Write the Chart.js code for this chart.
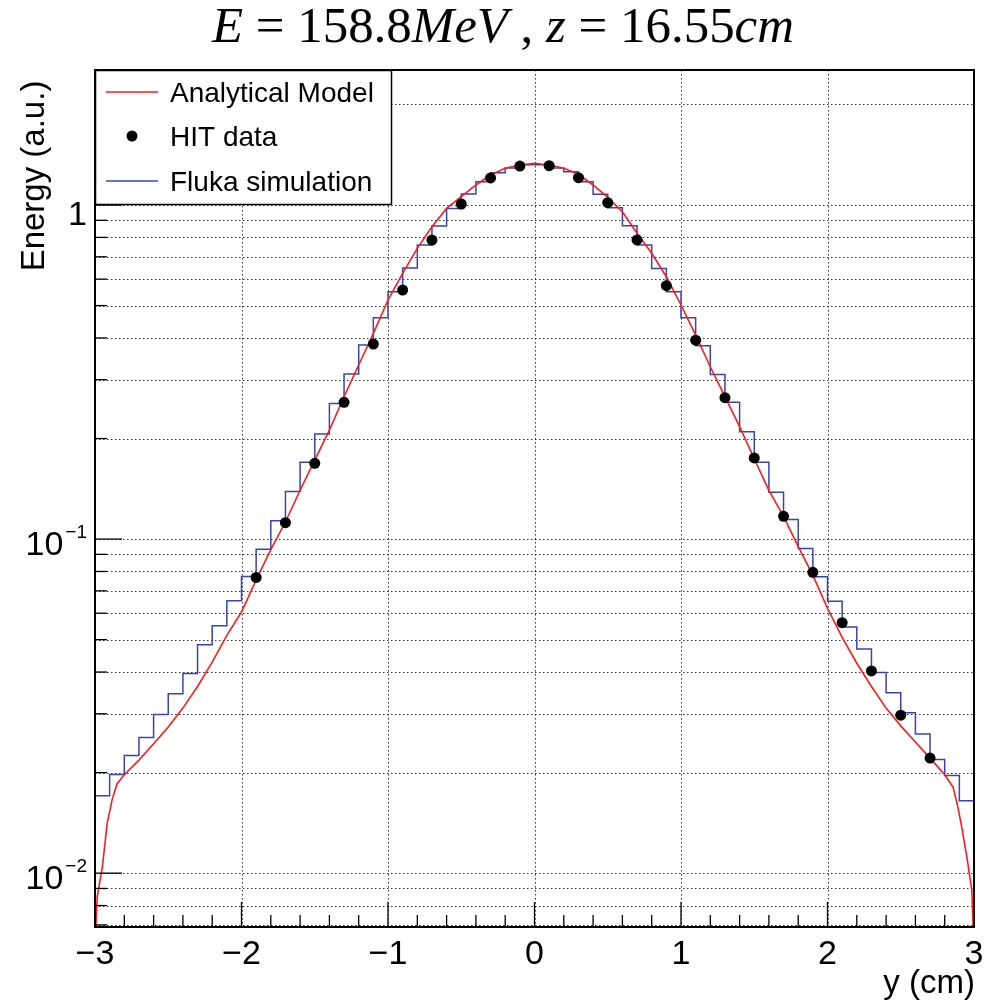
<!DOCTYPE html>
<html>
<head>
<meta charset="utf-8">
<script src="https://cdn.jsdelivr.net/npm/chart.js@4.4.0/dist/chart.umd.min.js"></script>
<style>
  html, body { margin: 0; padding: 0; background: #fff; }
</style>
</head>
<body>
<canvas id="chart" width="984" height="1006"></canvas>
<script>
// --- DATA ---

// HIT measurements (black dots)
const hitX = [-1.9, -1.7, -1.5, -1.3, -1.1, -0.9, -0.7, -0.5, -0.3, -0.1,
              0.1, 0.3, 0.5, 0.7, 0.9, 1.1, 1.3, 1.5, 1.7, 1.9, 2.1, 2.3, 2.5, 2.7];
const hitY = [0.0768, 0.112, 0.1686, 0.2566, 0.3836, 0.5566, 0.7856, 1.007, 1.205, 1.308,
              1.311, 1.207, 1.016, 0.786, 0.5734, 0.394, 0.265, 0.175, 0.117, 0.0795,
              0.0562, 0.0403, 0.0297, 0.0221];

// Fluka histogram: 60 bins of 0.1 cm from -3 to 3
const flukaStart = -3;
const flukaBin = 0.1;
const flukaY = [0.01704, 0.01974, 0.0225, 0.02548, 0.02986, 0.03442, 0.03961, 0.04826, 0.055, 0.06535,
                0.0773, 0.0933, 0.1134, 0.1389, 0.1697, 0.2062, 0.2548, 0.3119, 0.3808, 0.4599,
                0.5501, 0.6476, 0.759, 0.8652, 0.977, 1.079, 1.174, 1.25, 1.29, 1.32,
                1.32, 1.29, 1.258, 1.174, 1.077, 0.982, 0.867, 0.759, 0.646, 0.55,
                0.46, 0.379, 0.311, 0.2566, 0.2096, 0.1697, 0.138, 0.1145, 0.0938, 0.0771,
                0.0652, 0.0546, 0.0469, 0.0399, 0.0347, 0.0302, 0.0261, 0.0219, 0.0196, 0.01646];

// Analytical model (red curve)
const modelX = [-3.0, -2.985, -2.95, -2.917, -2.883, -2.85, -2.8, -2.7, -2.6, -2.5, -2.4, -2.3, -2.2, -2.1,
                -2.0, -1.9, -1.8, -1.7, -1.6, -1.5, -1.4, -1.3, -1.2, -1.1, -1.0, -0.9, -0.8, -0.7,
                -0.6, -0.5, -0.4, -0.3, -0.2, -0.1, 0.0, 0.1, 0.2, 0.3, 0.4, 0.5, 0.6, 0.7, 0.8,
                0.9, 1.0, 1.1, 1.2, 1.3, 1.4, 1.5, 1.6, 1.7, 1.8, 1.9, 2.0, 2.1, 2.2, 2.3, 2.4,
                2.5, 2.6, 2.7, 2.8, 2.857, 2.89, 2.92, 2.955, 2.985, 3.0];
const modelY = [0.006, 0.0085, 0.0104, 0.0141, 0.0166, 0.0185, 0.0197, 0.0218, 0.0244, 0.0274, 0.0312, 0.0362, 0.0428, 0.0515,
                0.0605, 0.0755, 0.093, 0.1125, 0.14, 0.1724, 0.212, 0.2667, 0.332, 0.413, 0.519, 0.624, 0.742, 0.861,
                0.977, 1.059, 1.148, 1.23, 1.288, 1.318, 1.333, 1.318, 1.288, 1.236, 1.148, 1.054, 0.955, 0.823, 0.717,
                0.61, 0.502, 0.408, 0.328, 0.267, 0.217, 0.174, 0.14, 0.117, 0.095, 0.078, 0.062, 0.0508, 0.0425, 0.0362, 0.0312,
                0.0276, 0.0247, 0.0221, 0.0197, 0.0181, 0.0158, 0.01345, 0.0109, 0.0089, 0.006];

// axes
const xMin = -3, xMax = 3;
const yMin = 0.0069, yMax = 2.536;
const xTickLabels = ['\u22123', '\u22122', '\u22121', '0', '1', '2', '3'];

const titleParts = [
    ['E', true], [' = 158.8', false], ['MeV', true], [' , ', false],
    ['z', true], [' = 16.55', false], ['cm', true]
];

// --- build series ---
const modelPts = modelX.map((x, i) => ({ x: x, y: modelY[i] }));
const hitPts = hitX.map((x, i) => ({ x: x, y: hitY[i] }));

const flukaPts = [{ x: flukaStart, y: 1e-4 }];
flukaY.forEach((v, i) => flukaPts.push({ x: +(flukaStart + i * flukaBin).toFixed(2), y: v }));
flukaPts.push({ x: xMax, y: flukaY[flukaY.length - 1] });
flukaPts.push({ x: xMax, y: 1e-4 });

// tick positions
const xMajor = [];
for (let v = xMin; v <= xMax; v++) xMajor.push(v);
const xMinor = [];
for (let k = -15; k <= 15; k++) xMinor.push(k * 0.2);
const yGrid = [];
for (let d = -3; d <= 0; d++) {
    for (let m = 1; m <= 9; m++) {
        const v = m * Math.pow(10, d);
        if (v >= yMin && v <= yMax) yGrid.push({ v: v, major: m === 1 });
    }
}

const SANS = '"Liberation Sans", Arial, Helvetica, sans-serif';
const SERIF = '"Liberation Serif", "Times New Roman", serif';

function line(ctx, x1, y1, x2, y2) {
    ctx.beginPath();
    ctx.moveTo(x1, y1);
    ctx.lineTo(x2, y2);
    ctx.stroke();
}

// ROOT-like frame, grid, ticks, labels and legend
const rootStyle = {
    id: 'rootStyle',
    beforeDraw(chart) {
        const ctx = chart.ctx;
        ctx.save();
        ctx.fillStyle = '#fff';
        ctx.fillRect(0, 0, chart.width, chart.height);
        ctx.restore();
    },
    beforeDatasetsDraw(chart) {
        const { ctx, chartArea: a, scales: { x, y } } = chart;
        ctx.save();
        ctx.strokeStyle = 'rgba(0,0,0,0.8)';
        ctx.lineWidth = 1;
        ctx.setLineDash([1.5, 2.5]);
        xMajor.forEach(v => {
            const px = Math.round(x.getPixelForValue(v)) + 0.5;
            line(ctx, px, a.top, px, a.bottom);
        });
        yGrid.forEach(t => {
            const py = Math.round(y.getPixelForValue(t.v)) + 0.5;
            line(ctx, a.left, py, a.right, py);
        });
        ctx.restore();
    },
    afterDatasetsDraw(chart) {
        const { ctx, chartArea: a, scales: { x, y } } = chart;
        ctx.save();

        // ticks pointing inside
        ctx.strokeStyle = '#000';
        ctx.lineWidth = 1.3;
        xMinor.forEach(v => {
            const px = x.getPixelForValue(v);
            const major = Math.abs(v - Math.round(v)) < 1e-6;
            line(ctx, px, a.bottom, px, a.bottom - (major ? 25 : 12));
        });
        yGrid.forEach(t => {
            const py = y.getPixelForValue(t.v);
            line(ctx, a.left, py, a.left + (t.major ? 27 : 12), py);
        });

        // frame
        ctx.lineWidth = 2;
        ctx.strokeRect(a.left, a.top, a.right - a.left, a.bottom - a.top);

        // x tick labels
        ctx.fillStyle = '#000';
        ctx.font = '34px ' + SANS;
        ctx.textAlign = 'center';
        ctx.textBaseline = 'alphabetic';
        xMajor.forEach((v, i) => {
            ctx.fillText(xTickLabels[i], x.getPixelForValue(v), 964);
        });

        // y tick labels (powers of ten)
        ctx.textAlign = 'right';
        [-2, -1, 0].forEach(d => {
            const py = y.getPixelForValue(Math.pow(10, d));
            const right = a.left - 8;
            if (d === 0) {
                ctx.font = '34px ' + SANS;
                ctx.fillText('1', right, py + 20);
            } else {
                const sup = '\u2212' + Math.abs(d);
                ctx.font = '19px ' + SANS;
                ctx.fillText(sup, right, py - 1);
                const w = ctx.measureText(sup).width;
                ctx.font = '34px ' + SANS;
                ctx.fillText('10', right - w - 2, py + 16);
            }
        });

        // axis titles
        ctx.font = '33px ' + SANS;
        ctx.textAlign = 'right';
        ctx.fillText('y (cm)', a.right + 1, 993);
        ctx.save();
        ctx.translate(44, 176);
        ctx.rotate(-Math.PI / 2);
        ctx.textAlign = 'center';
        ctx.fillText('Energy (a.u.)', 0, 0);
        ctx.restore();

        // legend
        const lx = a.left, ly = a.top, lw = 296, lh = 134;
        ctx.fillStyle = '#fff';
        ctx.fillRect(lx, ly, lw, lh);
        ctx.strokeStyle = '#000';
        ctx.lineWidth = 1.5;
        ctx.strokeRect(lx + 0.5, ly + 0.5, lw, lh);
        const sets = chart.data.datasets;
        const rows = [
            { ds: sets[1], base: 102 },
            { ds: sets[0], base: 146 },
            { ds: sets[2], base: 191 }
        ];
        ctx.font = '28px ' + SANS;
        ctx.textAlign = 'left';
        rows.forEach(r => {
            const cy = r.base - 10;
            if (r.ds.showLine === false) {
                ctx.fillStyle = '#000';
                ctx.beginPath();
                ctx.arc(132, cy, 5.5, 0, Math.PI * 2);
                ctx.fill();
            } else {
                ctx.strokeStyle = r.ds.borderColor;
                ctx.lineWidth = 1.5;
                line(ctx, 106, cy, 158, cy);
            }
            ctx.fillStyle = '#000';
            ctx.fillText(r.ds.label, 170, r.base);
        });

        // title with math-style italics
        let total = 0;
        titleParts.forEach(p => {
            ctx.font = (p[1] ? 'italic ' : '') + '40px ' + SERIF;
            total += ctx.measureText(p[0]).width;
        });
        const size = 40 * 582 / total;
        let tx = 212;
        ctx.textAlign = 'left';
        titleParts.forEach(p => {
            ctx.font = (p[1] ? 'italic ' : '') + size.toFixed(2) + 'px ' + SERIF;
            ctx.fillText(p[0], tx, 42);
            tx += ctx.measureText(p[0]).width;
        });

        ctx.restore();
    }
};

new Chart(document.getElementById('chart'), {
    type: 'line',
    data: {
        datasets: [
            {
                label: 'HIT data',
                type: 'scatter',
                data: hitPts,
                showLine: false,
                backgroundColor: '#000',
                borderWidth: 0,
                pointRadius: 5.5,
                order: 0
            },
            {
                label: 'Analytical Model',
                data: modelPts,
                borderColor: '#ff1a1a',
                borderWidth: 1.6,
                pointRadius: 0,
                tension: 0,
                fill: false,
                order: 1
            },
            {
                label: 'Fluka simulation',
                data: flukaPts,
                stepped: true,
                borderColor: 'rgb(55,68,178)',
                borderWidth: 1.5,
                pointRadius: 0,
                fill: false,
                order: 2
            }
        ]
    },
    options: {
        responsive: false,
        devicePixelRatio: 1,
        animation: false,
        events: [],
        layout: { padding: { left: 95, right: 10, top: 70, bottom: 79 } },
        plugins: {
            legend: { display: false },
            tooltip: { enabled: false },
            title: { display: false }
        },
        scales: {
            x: { type: 'linear', min: xMin, max: xMax, display: false },
            y: { type: 'logarithmic', min: yMin, max: yMax, display: false }
        }
    },
    plugins: [rootStyle]
});
</script>
</body>
</html>
